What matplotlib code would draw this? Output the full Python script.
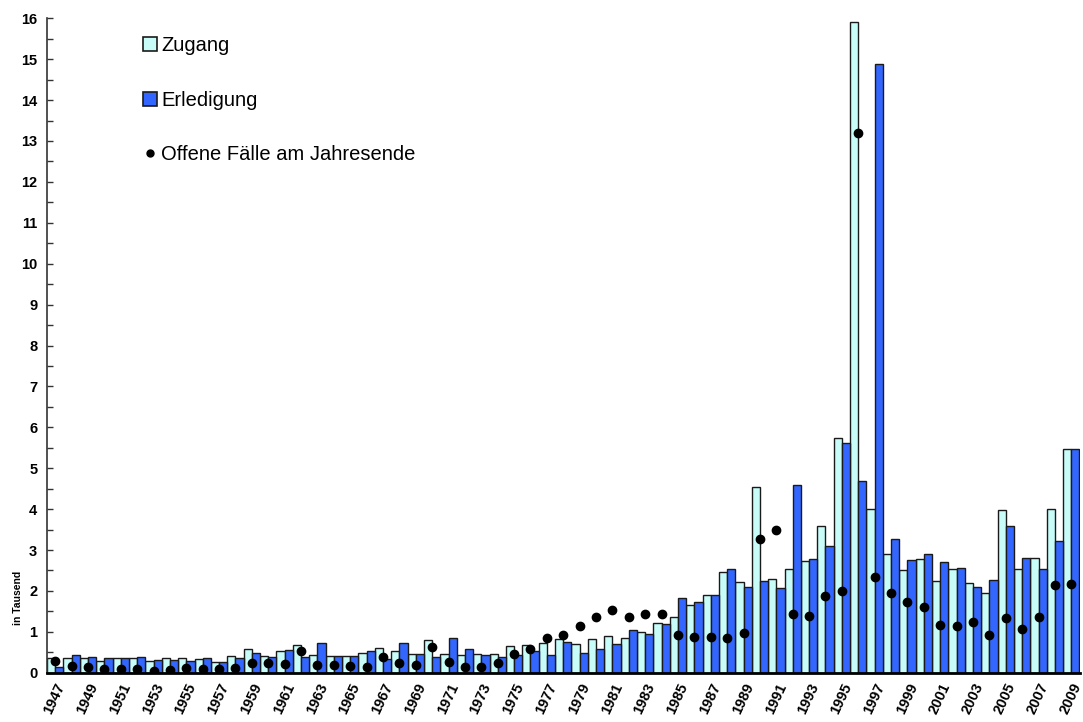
import numpy as np
import matplotlib
matplotlib.use("Agg")
import matplotlib.pyplot as plt
from matplotlib.patches import Patch
from matplotlib.lines import Line2D

# values in thousands
years = list(range(1947, 2010))
zugang = [0.35, 0.35, 0.35, 0.28, 0.35, 0.37, 0.28, 0.35, 0.37, 0.33,
          0.27, 0.41, 0.57, 0.40, 0.52, 0.68, 0.43, 0.42, 0.42, 0.47,
          0.60, 0.52, 0.45, 0.81, 0.46, 0.43, 0.46, 0.46, 0.65, 0.68,
          0.73, 0.83, 0.71, 0.83, 0.89, 0.85, 1.00, 1.21, 1.37, 1.66,
          1.90, 2.45, 2.21, 4.53, 2.28, 2.54, 2.72, 3.59, 5.74, 15.90,
          4.01, 2.89, 2.52, 2.77, 2.24, 2.54, 2.20, 1.95, 3.98, 2.54,
          2.81, 4.01, 5.48]
erledigung = [0.15, 0.43, 0.39, 0.35, 0.37, 0.39, 0.31, 0.31, 0.28, 0.37,
              0.27, 0.37, 0.48, 0.39, 0.55, 0.38, 0.72, 0.42, 0.42, 0.52,
              0.34, 0.72, 0.45, 0.39, 0.84, 0.57, 0.43, 0.38, 0.43, 0.54,
              0.44, 0.75, 0.49, 0.59, 0.71, 1.04, 0.95, 1.19, 1.82, 1.72,
              1.90, 2.53, 2.09, 2.23, 2.08, 4.58, 2.77, 3.09, 5.61, 4.68,
              14.88, 3.26, 2.75, 2.89, 2.70, 2.57, 2.10, 2.26, 3.58, 2.81,
              2.54, 3.21, 5.46]
offen = [0.28, 0.16, 0.15, 0.10, 0.10, 0.08, 0.04, 0.06, 0.12, 0.08,
         0.08, 0.12, 0.23, 0.23, 0.22, 0.52, 0.20, 0.19, 0.17, 0.15,
         0.38, 0.23, 0.20, 0.63, 0.26, 0.14, 0.15, 0.24, 0.45, 0.57,
         0.85, 0.92, 1.14, 1.37, 1.54, 1.37, 1.43, 1.43, 0.93, 0.88,
         0.88, 0.84, 0.96, 3.26, 3.48, 1.43, 1.38, 1.87, 1.99, 13.19,
         2.33, 1.95, 1.72, 1.61, 1.16, 1.14, 1.23, 0.91, 1.33, 1.07,
         1.35, 2.15, 2.18]

col_zug = "#C8FCF8"
col_erl = "#3366FF"
edge = "#1a1a1a"

plt.rcParams["font.family"] = ["Liberation Sans", "DejaVu Sans"]

fig = plt.figure(figsize=(10.83, 7.22), dpi=100)
ax = fig.add_axes([47 / 1083, 1 - 672.7 / 722, (1079.5 - 47) / 1083, (672.7 - 18.3) / 722])

x = np.arange(len(years))
w = 0.5
ax.bar(x - w / 2, zugang, width=w, color=col_zug, edgecolor=edge, linewidth=1.0, zorder=2)
ax.bar(x + w / 2, erledigung, width=w, color=col_erl, edgecolor=edge, linewidth=1.0, zorder=2)
ax.plot(x, offen, "o", color="black", markersize=6, zorder=3)

ax.set_xlim(-0.5, len(years) - 0.5)
ax.set_ylim(0, 16)
ax.set_yticks(np.arange(0, 17, 1))
ax.set_yticks(np.arange(0, 16.5, 0.5), minor=True)
ax.tick_params(axis="y", which="both", direction="in", length=4, width=1, color="#333333",
               labelsize=10.5, pad=7)
for t in ax.get_yticklabels():
    t.set_fontweight("bold")

ax.set_xticks(x[::2])
ax.set_xticklabels([str(y) for y in years[::2]], rotation=65, ha="right",
                   rotation_mode="anchor", fontsize=10.5, fontweight="bold")
ax.tick_params(axis="x", length=0, pad=6)

for s in ["top", "right"]:
    ax.spines[s].set_visible(False)
ax.spines["left"].set_color("#333333")
ax.spines["left"].set_linewidth(1.2)
ax.spines["bottom"].set_color("black")
ax.spines["bottom"].set_linewidth(2)
ax.spines["bottom"].set_zorder(4)

fig.text(18 / 1083, 1 - 598 / 722, "in Tausend", rotation=90, fontsize=7.5,
         fontweight="bold", ha="center", va="center")

handles = [
    Patch(facecolor=col_zug, edgecolor=edge, linewidth=1.2),
    Patch(facecolor=col_erl, edgecolor=edge, linewidth=1.2),
    Line2D([], [], marker="o", color="black", linestyle="none", markersize=5),
]
labels = ["Zugang", "Erledigung", "Offene Fälle am Jahresende"]
ax.legend(handles, labels, loc="upper left", bbox_to_anchor=(143 / 1083, 1 - 36 / 722),
          bbox_transform=fig.transFigure, frameon=False, fontsize=14.5,
          handlelength=0.7, handleheight=0.7, handletextpad=0.2,
          labelspacing=1.77, borderaxespad=0, borderpad=0)

fig.savefig("out.png", dpi=100, facecolor="white")
